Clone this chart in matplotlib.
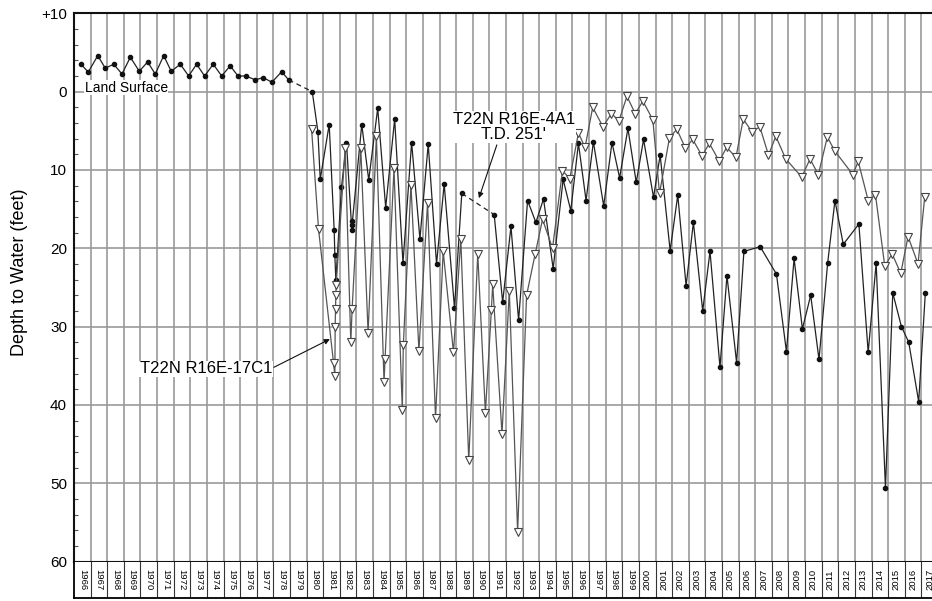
import numpy as np
import matplotlib.pyplot as plt

plt.rcParams['font.family'] = ['Liberation Sans', 'DejaVu Sans']

# T22N R16E-4A1 (filled dots), split where the record is dashed
well_4a1_yr_a = [1966.42, 1966.86, 1967.43, 1967.88, 1968.39, 1968.89, 1969.39, 1969.93,
                 1970.43, 1970.89, 1971.40, 1971.85, 1972.40, 1972.90, 1973.38, 1973.86,
                 1974.38, 1974.89, 1975.40, 1975.87, 1976.35, 1976.91, 1977.39, 1977.91,
                 1978.50, 1978.92]
well_4a1_dep_a = [-3.5, -2.5, -4.6, -3.0, -3.5, -2.25, -4.4, -2.6,
                  -3.8, -2.25, -4.6, -2.6, -3.5, -2.0, -3.5, -2.0,
                  -3.5, -2.0, -3.3, -2.0, -2.0, -1.5, -1.8, -1.2,
                  -2.55, -1.5]

well_4a1_yr_b = [1980.34, 1980.68, 1980.82, 1981.36, 1981.66, 1981.70, 1981.76, 1982.10,
                 1982.40, 1982.72, 1982.74, 1982.76, 1983.32, 1983.74, 1984.28, 1984.76,
                 1985.30, 1985.80, 1986.32, 1986.82, 1987.32, 1987.82, 1988.28, 1988.90,
                 1989.34]
well_4a1_dep_b = [0.0, 5.1, 11.2, 4.2, 17.7, 20.9, 24.1, 12.2,
                  6.5, 17.7, 17.0, 16.5, 4.2, 11.3, 2.1, 14.8,
                  3.5, 21.9, 6.5, 18.8, 6.7, 22.0, 11.8, 27.6,
                  13.0]

well_4a1_yr_c = [1991.29, 1991.80, 1992.30, 1992.76, 1993.30, 1993.80, 1994.26, 1994.84,
                 1995.44, 1995.90, 1996.36, 1996.82, 1997.26, 1997.88, 1998.38, 1998.84,
                 1999.34, 1999.84, 2000.28, 2000.88, 2001.28, 2001.88, 2002.34, 2002.84,
                 2003.28, 2003.84, 2004.28, 2004.88, 2005.30, 2005.88, 2006.32, 2007.30,
                 2008.28, 2008.88, 2009.34, 2009.84, 2010.34, 2010.84, 2011.36, 2011.80,
                 2012.30, 2013.24, 2013.80, 2014.28, 2014.84, 2015.28, 2015.80, 2016.24,
                 2016.84, 2017.24]
well_4a1_dep_c = [15.7, 26.9, 17.2, 29.2, 13.9, 16.7, 13.7, 22.6,
                  11.2, 15.2, 6.6, 13.9, 6.4, 14.6, 6.5, 11.0,
                  4.7, 11.6, 6.1, 13.5, 8.1, 20.3, 13.2, 24.8,
                  16.7, 28.0, 20.4, 35.2, 23.5, 34.6, 20.4, 19.8,
                  23.3, 33.2, 21.3, 30.3, 26.0, 34.2, 21.9, 13.9,
                  19.5, 16.9, 33.3, 21.9, 50.6, 25.7, 30.0, 32.0,
                  39.6, 25.7]

# T22N R16E-17C1 (open triangles)
well_17c1_yr = [1980.30, 1980.72, 1981.62, 1981.70, 1981.72, 1981.74, 1981.76, 1981.78,
                1982.32, 1982.66, 1982.74, 1983.26, 1983.70, 1984.20, 1984.66, 1984.72,
                1985.26, 1985.76, 1985.82, 1986.28, 1986.76, 1987.28, 1987.76, 1988.22,
                1988.84, 1989.28, 1989.76, 1990.30, 1990.76, 1991.12, 1991.20, 1991.76,
                1992.20, 1992.70, 1993.24, 1993.76, 1994.20, 1994.80, 1995.40, 1995.84,
                1996.36, 1996.76, 1997.22, 1997.84, 1998.34, 1998.80, 1999.28, 1999.78,
                2000.24, 2000.84, 2001.24, 2001.84, 2002.28, 2002.80, 2003.24, 2003.80,
                2004.24, 2004.84, 2005.28, 2005.84, 2006.28, 2006.80, 2007.28, 2007.80,
                2008.24, 2008.84, 2009.80, 2010.30, 2010.80, 2011.34, 2011.80, 2012.88,
                2013.20, 2013.80, 2014.24, 2014.80, 2015.24, 2015.76, 2016.20, 2016.80,
                2017.20]
well_17c1_dep = [4.8, 17.6, 34.6, 36.3, 30.0, 27.7, 26.0, 24.7,
                 7.2, 32.0, 27.7, 7.2, 30.8, 5.7, 37.1, 34.2,
                 9.8, 40.6, 32.4, 11.9, 33.1, 14.2, 41.7, 20.4,
                 33.3, 18.8, 47.1, 20.7, 41.0, 27.9, 24.6, 43.7,
                 25.4, 56.2, 26.0, 20.7, 16.3, 20.0, 10.1, 11.1,
                 5.3, 7.1, 2.0, 4.5, 2.8, 3.7, 0.6, 2.8,
                 1.2, 3.6, 13.0, 5.9, 4.8, 7.2, 6.1, 8.2,
                 6.6, 8.9, 7.1, 8.4, 3.5, 5.1, 4.5, 8.1,
                 5.7, 8.6, 10.9, 8.6, 10.6, 5.8, 7.6, 10.6,
                 8.9, 13.9, 13.2, 22.3, 20.7, 23.2, 18.5, 22.0,
                 13.5]

years = list(range(1966, 2018))
y_ticks = [-10, 0, 10, 20, 30, 40, 50, 60]
y_ticklabels = ['+10', '0', '10', '20', '30', '40', '50', '60']

fig = plt.figure(figsize=(9.32, 6.01), dpi=100)
ax = fig.add_axes([0.0794, 0.0657, 0.9270, 0.9121])

ax.set_xlim(1966, 2018)
ax.set_ylim(60, -10)
ax.set_xticks(range(1966, 2019))
ax.set_xticklabels([])
ax.tick_params(axis='x', length=0)
ax.set_yticks(y_ticks)
ax.set_yticklabels(y_ticklabels, fontsize=11)
ax.set_yticks(np.arange(-10, 61, 2), minor=True)
ax.tick_params(axis='y', which='major', length=0, pad=5)
ax.tick_params(axis='y', which='minor', direction='in', length=3, color='#555', width=0.8)
ax.grid(True, which='major', color='#999999', lw=1.2)
ax.set_axisbelow(True)
for side in ['left', 'top', 'bottom']:
    ax.spines[side].set_linewidth(1.5)
    ax.spines[side].set_color('#111')
ax.spines['right'].set_visible(False)

line_kw = dict(color='#222', lw=0.9)
ax.plot(well_4a1_yr_a, well_4a1_dep_a, marker='o', ms=3, mfc='#111', mec='#111', **line_kw)
ax.plot(well_4a1_yr_b, well_4a1_dep_b, marker='o', ms=3, mfc='#111', mec='#111', **line_kw)
ax.plot(well_4a1_yr_c, well_4a1_dep_c, marker='o', ms=3, mfc='#111', mec='#111', **line_kw)
# dashed gaps in the 4A1 record
ax.plot([well_4a1_yr_a[-1], well_4a1_yr_b[0]], [well_4a1_dep_a[-1], well_4a1_dep_b[0]],
        ls=(0, (4, 3)), **line_kw)
ax.plot([well_4a1_yr_b[-1], well_4a1_yr_c[0]], [well_4a1_dep_b[-1], well_4a1_dep_c[0]],
        ls=(0, (4, 3)), **line_kw)

ax.plot(well_17c1_yr, well_17c1_dep, color='#555', lw=0.9, marker='v', ms=5.5,
        mfc='white', mec='#444', mew=0.8, zorder=3)

ax.text(1966.65, -0.5, 'Land Surface', fontsize=10, ha='left', va='center',
        bbox=dict(facecolor='white', edgecolor='none', pad=0.3))

ax.text(1992.47, 4.5, "T22N R16E-4A1\nT.D. 251'", fontsize=12, ha='center', va='center',
        linespacing=1.0, bbox=dict(facecolor='white', edgecolor='none', pad=0.5))
ax.annotate('', xy=(1990.37, 13.6), xytext=(1991.45, 6.8),
            arrowprops=dict(arrowstyle='-|>', color='#111', lw=0.8, mutation_scale=8,
                            shrinkA=0, shrinkB=0))

ax.text(1977.91, 35.4, 'T22N R16E-17C1', fontsize=12, ha='right', va='center',
        bbox=dict(facecolor='white', edgecolor='none', pad=0.5))
ax.annotate('', xy=(1981.40, 31.6), xytext=(1978.03, 35.2),
            arrowprops=dict(arrowstyle='-|>', color='#111', lw=0.8, mutation_scale=8,
                            shrinkA=0, shrinkB=0))

fig.text(20 / 932, 1 - 272 / 601, 'Depth to Water (feet)', rotation=90,
         fontsize=13, ha='center', va='center')

# year boxes under the plot
bx = fig.add_axes([0.0794, 0.005, 0.9270, 0.0607])
bx.set_xlim(1966, 2018)
bx.set_ylim(0, 1)
bx.set_xticks([])
bx.set_yticks([])
for yr in years[1:]:
    bx.axvline(yr, color='#333', lw=0.8)
for yr in years:
    rot = 270 if yr < 2000 else 90
    bx.text(yr + 0.5, 0.5, str(yr), rotation=rot, fontsize=6.8, ha='center', va='center')
for side in ['left', 'bottom']:
    bx.spines[side].set_linewidth(1.3)
bx.spines['top'].set_visible(False)
bx.spines['right'].set_visible(False)

fig.savefig('out.png', dpi=100)
